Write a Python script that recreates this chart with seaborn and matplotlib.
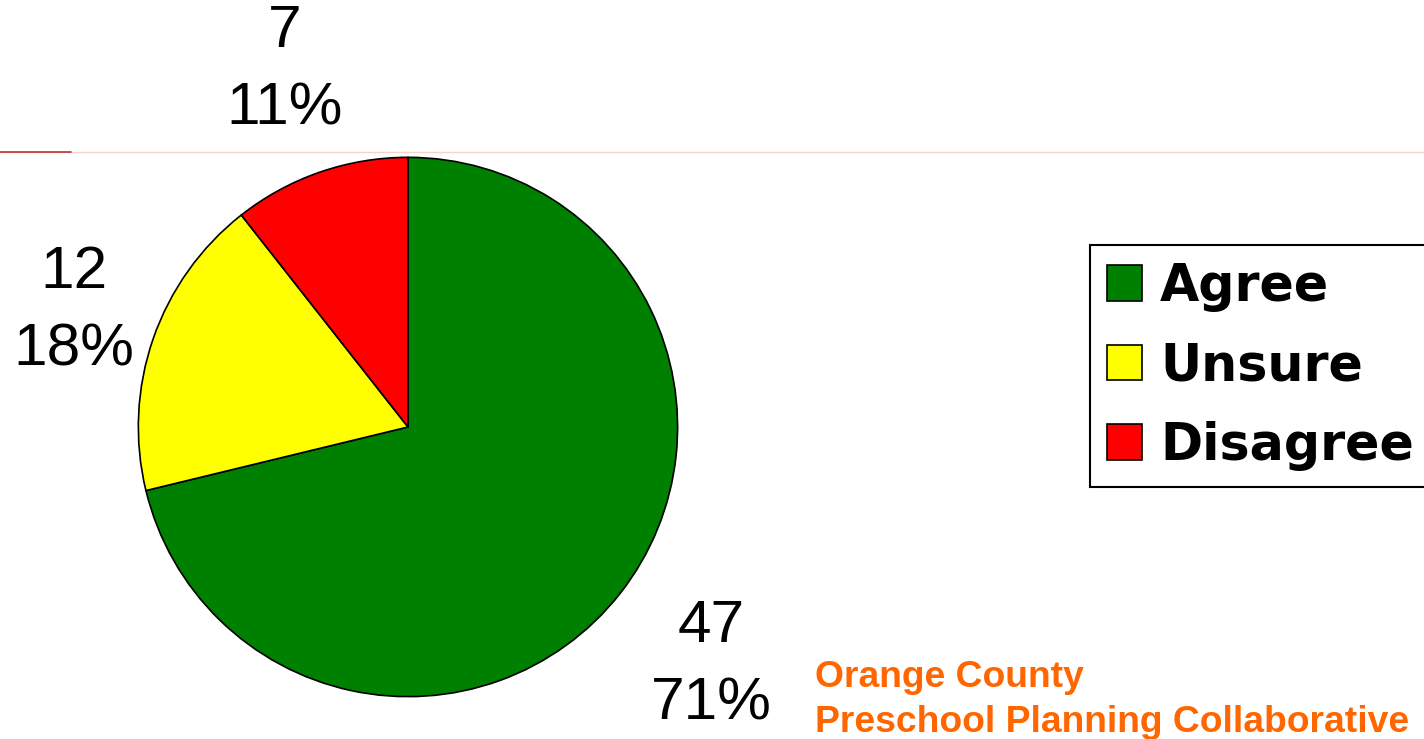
import seaborn as sns
import matplotlib.pyplot as plt
import numpy as np
from matplotlib.lines import Line2D

categories = ["Agree", "Unsure", "Disagree"]
counts = [47, 12, 7]
percents = [71, 18, 11]
colors = ["#008000", "#FFFF00", "#FF0000"]
label_radius = [1.43, 1.31, 1.40]

sns.set_theme(style="white")
plt.rcParams['font.family'] = ['Liberation Sans', 'DejaVu Sans']

fig = plt.figure(figsize=(14.24, 7.39), dpi=100)
ax = fig.add_axes([0.0962, 0.0555, 0.3806, 0.7334])

wedges, _ = ax.pie(counts, colors=colors, startangle=90, counterclock=False,
                   wedgeprops=dict(edgecolor="black", linewidth=1.2))
ax.set_xlim(-1.005, 1.005)
ax.set_ylim(-1.005, 1.005)
ax.set_aspect("equal")

for w, n, p, r in zip(wedges, counts, percents, label_radius):
    ang = np.deg2rad((w.theta1 + w.theta2) / 2)
    ax.text(r * np.cos(ang), r * np.sin(ang), f"{n}\n{p}%", ha="center", va="center",
            fontsize=43.5, linespacing=1.52, color="black", clip_on=False)

leg = fig.legend(wedges, categories, loc="upper left", bbox_to_anchor=(0.7654, 0.6685),
                 frameon=True, fancybox=False, edgecolor="black", framealpha=1,
                 prop=dict(family="DejaVu Sans", weight="bold", size=36.5),
                 labelcolor="black",
                 handlelength=0.7, handleheight=0.7, handletextpad=0.35,
                 labelspacing=0.58, borderpad=0.33, borderaxespad=0)
leg.get_frame().set_linewidth(1.5)

# faint line across the top of the slide
fig.add_artist(Line2D([0, 1], [0.7943, 0.7943], color="#f6d4cc", lw=1))
fig.add_artist(Line2D([0, 0.05], [0.7943, 0.7943], color="#c03030", lw=1.2))

fig.text(0.572, 1 - 687 / 739, "Orange County", color="#FF6600", fontsize=26.8,
         fontweight="bold", ha="left", va="baseline")
fig.text(0.572, 1 - 732 / 739, "Preschool Planning Collaborative", color="#FF6600",
         fontsize=26.8, fontweight="bold", ha="left", va="baseline")

plt.savefig("out.png", dpi=100)
